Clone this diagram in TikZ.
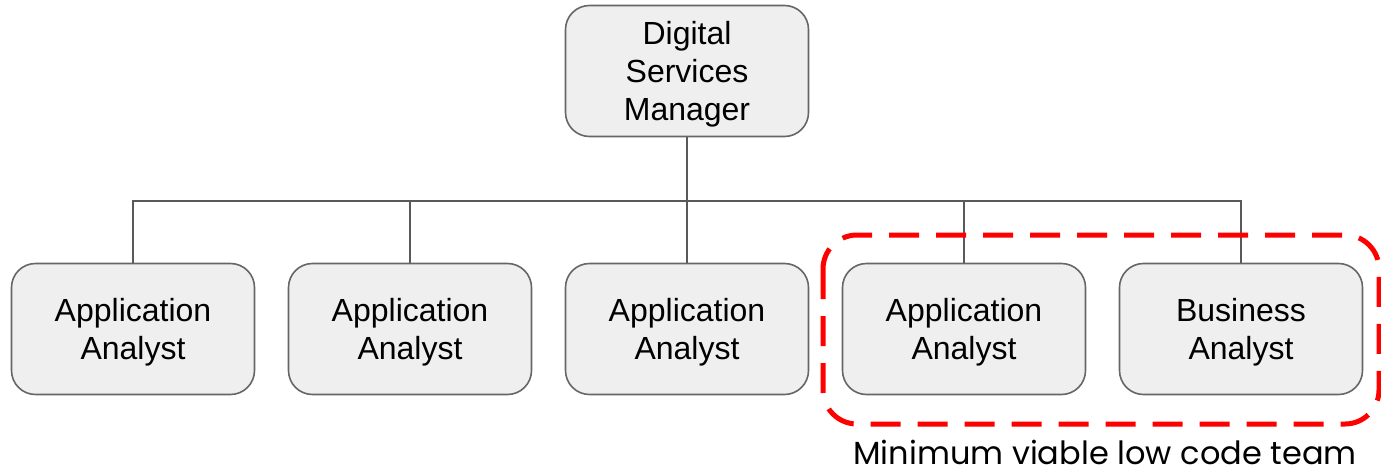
\documentclass[tikz,border=0pt]{standalone}
\usepackage{fontspec}
\setmainfont{Liberation Sans}
\newfontfamily\labelfont{Poppins}
\usepackage{xcolor}
\usetikzlibrary{positioning}

\definecolor{boxfill}{HTML}{EFEFEF}
\definecolor{boxline}{HTML}{666666}
\definecolor{wire}{HTML}{595959}
\definecolor{teamred}{HTML}{FF0000}

\tikzset{
    role/.style={draw=boxline, line width=1.6pt, fill=boxfill, rounded corners=24pt,
        minimum width=243pt, minimum height=131pt, align=center, text depth=0pt,
        font=\fontsize{32}{38}\selectfont},
    wire/.style={draw=wire, line width=1.8pt},
    teambox/.style={draw=teamred, line width=5pt, rounded corners=34pt,
        dash pattern=on 30pt off 17pt}
}

\begin{document}
\begin{tikzpicture}[x=1pt, y=-1pt]
    \useasboundingbox (0,0) rectangle (1381,468);
    \clip (0,0) rectangle (1381,468);

    % manager and the analysts below
    \node[role] (mgr) at (687,71) {Digital\\Services\\Manager};
    \foreach \i/\x/\txt in {1/133/Application, 2/410/Application, 3/687/Application,
                            4/964/Application, 5/1241/Business}
        \node[role] (an\i) at (\x,329) {\txt\\Analyst};

    % tree lines
    \coordinate (bus) at (687,201);
    \draw[wire] (mgr.south) -- (bus);
    \draw[wire] (an1.north) |- (bus) -| (an5.north);
    \foreach \i in {2,3,4}
        \draw[wire] (an\i.north) -- (an\i.north |- bus);

    % minimum team
    \draw[teambox] (823,235) rectangle (1379,424);
    \node[anchor=base, font=\labelfont\fontsize{32}{38}\selectfont] (team) at (1105,464)
        {Minimum viable low code team};
\end{tikzpicture}
\end{document}
